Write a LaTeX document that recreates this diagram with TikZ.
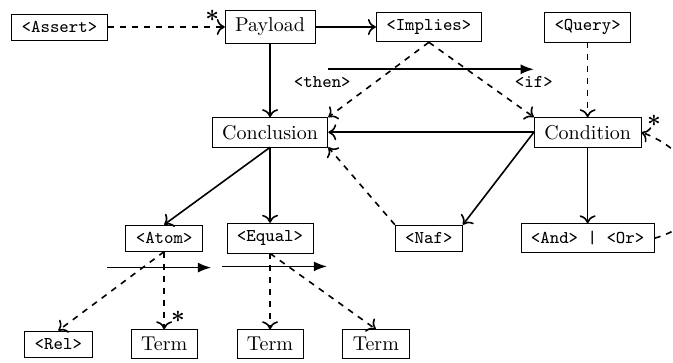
\documentclass[tikz,border=0pt]{standalone}
\usepackage{tikz}
\usetikzlibrary{positioning}
\usetikzlibrary{arrows.meta}

\begin{document}
\begin{tikzpicture}[
            node distance=1.86cm, on grid,
            >={To[width=8pt, length=4pt]},
            box/.style={draw, inner xsep=5pt, inner ysep=3.7pt},
            kw/.style={box, font=\small\ttfamily},
            link/.style={->, thick},
            ref/.style={->, thick, dashed},
            order/.style={-{Latex}, thick},
            role/.style={font=\small\ttfamily},
            many/.style={inner sep=1pt, font=\large\boldmath}
        ]
            \useasboundingbox (-4.745,0.474) rectangle (7.08,-5.887);
            \node [box] (payload) {Payload};
            \node [kw, left=3.70cm of payload] (assert) {<Assert>};
            \node [kw, right=2.79cm of payload] (implies) {<Implies>};
            \node [kw, right=2.79cm of implies] (query) {<Query>};
            \node [box, below=1.85cm of payload] (conclusion) {Conclusion};
            \node [box, below=1.85cm of query] (condition) {Condition};
            \node [kw, below left=1.86cm and 1.86cm of conclusion] (atom) {<Atom>};
            \node [kw, below=of conclusion] (equal) {<Equal>};
            \node [kw, below=3.71cm of implies] (naf) {<Naf>};
            \node [kw, below=of condition] (andor) {<And> | <Or>};
            \node [box, below=of atom] (term1) {Term};
            \node [kw, left=of term1] (rel) {<Rel>};
            \node [box, below=of equal] (term2) {Term};
            \node [box, right=of term2] (term3) {Term};
            \coordinate [above=31.5pt of conclusion.east] (then-l);
            \coordinate [above=31.5pt of condition.west] (if-r);
            \coordinate [below left=8pt and 28.5pt of atom.south] (atom-l);
            \coordinate [below right=8pt and 23.5pt of atom.south] (atom-r);
            \coordinate [below left=6.5pt and 24pt of equal.south] (equal-l);
            \coordinate [below right=6.5pt and 28.5pt of equal.south] (equal-r);

            \draw [ref] (assert) -- node [many, at end, above left=2pt] {$\ast$} (payload);
            \draw [link] (payload) -- (implies);
            \draw [link] (payload) -- (conclusion);
            \draw [ref] (implies.south) -- (conclusion.north east);
            \draw [ref] (implies.south) -- (condition.north west);
            \draw [order] (then-l) node [role, below, xshift=-3pt] {<then>} -- (if-r) node [role, below] {<if>};
            \draw [ref] (query) -- (condition);
            \draw [link] (condition) -- (conclusion);
            \draw [link] (condition.west) -- (naf.north east);
            \draw [ref] (naf.north west) -- (conclusion.south east);
            \draw [link] (condition) -- (andor);
            \draw [ref] (andor.east) to [out=15, in=-20, looseness=1.6] node [many, at end, above right=2pt] {$\ast$} (condition.east);
            \draw [link] (conclusion.south) -- (atom.north);
            \draw [link] (conclusion) -- (equal);
            \draw [ref] (atom.south) -- (rel.north);
            \draw [ref] (atom.south) -- node [many, at end, above right=3pt] {$\ast$} (term1.north);
            \draw [order] (atom-l) -- (atom-r);
            \draw [ref] (equal.south) -- (term2.north);
            \draw [ref] (equal.south) -- (term3.north);
            \draw [order] (equal-l) -- (equal-r);
        \end{tikzpicture}
\end{document}
